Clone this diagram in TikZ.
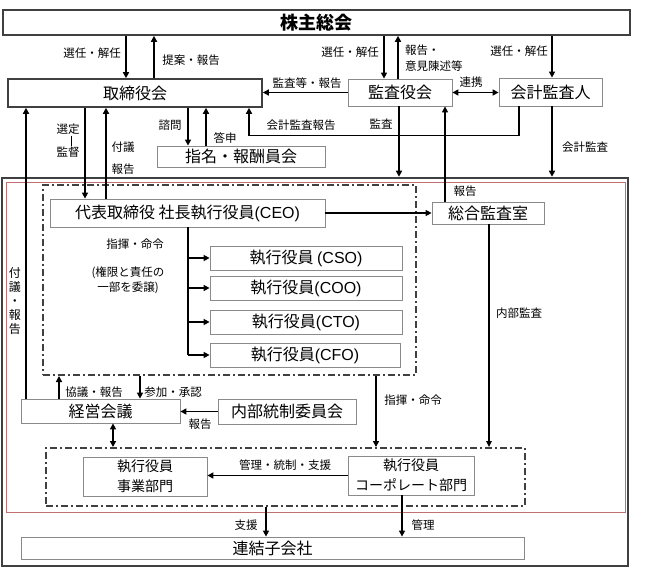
\documentclass[tikz,border=0pt]{standalone}
\usepackage{fontspec}
\setmainfont{Noto Sans CJK JP}
\newfontfamily\latf{Liberation Sans}
\usetikzlibrary{arrows.meta,calc}
\definecolor{thinbox}{HTML}{8A8A8A}
\definecolor{darkbox}{HTML}{404040}
\definecolor{redline}{HTML}{C07070}
\begin{document}
\begin{tikzpicture}[x=1pt,y=-1pt,
  box/.style={draw=thinbox,line width=0.8pt,inner sep=0pt,rectangle,font=\fontsize{16}{19}\selectfont},
  darkbox/.style={box,draw=darkbox,line width=1.6pt},
  ddbox/.style={draw=darkbox,line width=2pt,inner sep=0pt,rectangle,dash pattern=on 7pt off 3pt on 2pt off 3pt},
  lbl/.style={inner sep=0pt,font=\fontsize{11.5}{14}\selectfont},
  arr/.style={line width=1.6pt,-{Triangle[length=6pt,width=6pt]}},
  darr/.style={line width=1.6pt,{Triangle[length=6pt,width=6pt]}-{Triangle[length=6pt,width=6pt]}},
  plain/.style={line width=1.6pt},
  thinarr/.style={line width=1.1pt,-{Triangle[length=6pt,width=5.5pt]}}]
\useasboundingbox (0,0) rectangle (645,569);
% x positions
\foreach \n/\v in {26/26,59/59,85/85,106/106,113/113,126/126,140/140,154/154,188/188,206/206,249/249,266/266,376/376,384/384,398/398,399/399,402/402,445/445,489/489,519/519,552/552}
  \coordinate (X\n) at (\v,0);
% boxes
\node[darkbox,minimum width=627pt,minimum height=25pt] (soukai) at (316.5,22.5) {\bfseries\fontsize{18}{21}\selectfont 株主総会};
\node[darkbox,minimum width=254pt,minimum height=28pt] (board) at (135,93) {取締役会};
\node[box,minimum width=104pt,minimum height=27pt] (kansa) at (400,92.5) {監査役会};
\node[box,minimum width=103pt,minimum height=28pt] (kaikei) at (550.5,92) {会計監査人};
\node[box,minimum width=168pt,minimum height=21pt] (nomi) at (241,156.5) {指名・報酬員会};
\node[draw=darkbox,line width=2.5pt,rectangle,inner sep=0pt,minimum width=626pt,minimum height=388pt] (frame) at (315,372) {};
\draw[redline,line width=0.6pt] (6,182) rectangle (625,512);
\node[ddbox,minimum width=373pt,minimum height=190pt] (dd1) at (229.5,280) {};
\node[box,minimum width=275pt,minimum height=28pt] (ceo) at (187.5,213) {代表取締役 社長執行役員{\latf (CEO)}};
\node[box,minimum width=112pt,minimum height=22pt] (audit) at (488,213) {総合監査室};
\node[box,minimum width=192pt,minimum height=24pt] (cso) at (306,258) {執行役員 {\latf (CSO)}};
\node[box,minimum width=192pt,minimum height=24pt] (coo) at (306,288) {執行役員{\latf (COO)}};
\node[box,minimum width=192pt,minimum height=24pt] (cto) at (306,322) {執行役員{\latf (CTO)}};
\node[box,minimum width=190pt,minimum height=24pt] (cfo) at (305,355) {執行役員{\latf (CFO)}};
\node[box,minimum width=159pt,minimum height=24pt] (keiei) at (100.5,411) {経営会議};
\node[box,minimum width=138pt,minimum height=25pt] (naibu) at (287,411.5) {内部統制委員会};
\node[ddbox,minimum width=479pt,minimum height=58pt] (dd2) at (285.5,477) {};
\node[box,minimum width=124pt,minimum height=39pt,align=center,font=\fontsize{14}{20}\selectfont] (jigyo) at (145,476.5) {執行役員\\事業部門};
\node[box,minimum width=126pt,minimum height=39pt,align=center,font=\fontsize{14}{20}\selectfont] (corp) at (411,475.5) {執行役員\\コーポレート部門};
\node[box,minimum width=503pt,minimum height=22pt] (renketsu) at (272.5,548) {連結子会社};
% connectors top
\draw[arr] (soukai.south -| X126) -- (board.north -| X126);
\draw[arr] (board.north -| X154) -- (soukai.south -| X154);
\draw[arr] (soukai.south -| X384) -- (kansa.north -| X384);
\draw[arr] (kansa.north -| X398) -- (soukai.south -| X398);
\draw[arr] (soukai.south -| X552) -- (kaikei.north -| X552);
\draw[darr] (kansa.east) -- (kaikei.west |- kansa.east);
\draw[arr] (kansa.west) -- (board.east |- kansa.west);
\draw[arr] (kaikei.south -| X519) -- ++(0,29) -| (board.south -| X249);
\draw[arr] (kansa.south -| X399) -- (frame.north -| X399);
\draw[arr] (audit.north -| X445) -- (kansa.south -| X445);
\draw[arr] (kaikei.south -| X552) -- (frame.north -| X552);
\draw[arr] (board.south -| X188) -- (nomi.north -| X188);
\draw[arr] (nomi.north -| X206) -- (board.south -| X206);
\draw[arr] (board.south -| X85) -- (ceo.north -| X85);
\draw[arr] (ceo.north -| X106) -- (board.south -| X106);
\draw[arr] (keiei.north -| X26) -- (board.south -| X26);
% middle
\draw[arr] (ceo.east) -- (audit.west |- ceo.east);
\draw[plain] (ceo.south -| X188) -- (cfo.west -| X188);
\draw[arr] (cso.west -| X188) -- (cso.west);
\draw[arr] (coo.west -| X188) -- (coo.west);
\draw[arr] (cto.west -| X188) -- (cto.west);
\draw[arr] (cfo.west -| X188) -- (cfo.west);
\draw[arr] (keiei.north -| X59) -- (dd1.south -| X59);
\draw[arr] (dd1.south -| X140) -- (keiei.north -| X140);
\draw[arr] (naibu.west) -- (keiei.east |- naibu.west);
\draw[darr] (keiei.south -| X113) -- (dd2.north -| X113);
\draw[arr] (dd1.south -| X376) -- (dd2.north -| X376);
\draw[thinarr] (audit.south -| X489) -- (dd2.north -| X489);
\draw[arr] (corp.west) -- (jigyo.east |- corp.west);
\draw[arr] (dd2.south -| X266) -- (renketsu.north -| X266);
\draw[arr] (corp.south -| X402) -- (renketsu.north -| X402);
% labels
\node[lbl] (l1) at (92,53) {選任・解任};
\node[lbl] (l2) at (191,60) {提案・報告};
\node[lbl] (l3) at (350,52) {選任・解任};
\node[lbl,anchor=west,align=left,font=\fontsize{11.5}{16}\selectfont] (l4) at (405,58) {報告・\\意見陳述等};
\node[lbl] (l5) at (519,51) {選任・解任};
\node[lbl] (l6) at (471,82) {連携};
\node[lbl] (l7) at (307,83) {監査等・報告};
\node[lbl] (l8) at (301,125) {会計監査報告};
\node[lbl] (l9) at (381,124) {監査};
\node[lbl] (l10) at (585,147) {会計監査};
\node[lbl] (l11) at (170,125) {諮問};
\node[lbl] (l12) at (225,138) {答申};
\node[lbl] (l13) at (68,129) {選定};
\draw[line width=0.6pt] (71,136) -- (71,146);
\node[lbl] (l14) at (68,152) {監督};
\node[lbl] (l15) at (123,147) {付議};
\node[lbl] (l16) at (123,169) {報告};
\node[lbl] (l17) at (465,191) {報告};
\node[lbl] (l18) at (135,244) {指揮・命令};
\node[lbl,align=center,font=\fontsize{11.5}{15}\selectfont] (l19) at (128,280) {(権限と責任の\\一部を委譲)};
\node[lbl,align=center,font=\fontsize{12}{14}\selectfont] (l20) at (15,301) {付\\議\\・\\報\\告};
\node[lbl] (l21) at (519,313) {内部監査};
\node[lbl] (l22) at (94,392) {協議・報告};
\node[lbl] (l23) at (173,392) {参加・承認};
\node[lbl] (l24) at (200,424) {報告};
\node[lbl] (l25) at (413,400) {指揮・命令};
\node[lbl] (l26) at (285,465) {管理・統制・支援};
\node[lbl] (l27) at (246,525) {支援};
\node[lbl] (l28) at (423,525) {管理};
\end{tikzpicture}
\end{document}
